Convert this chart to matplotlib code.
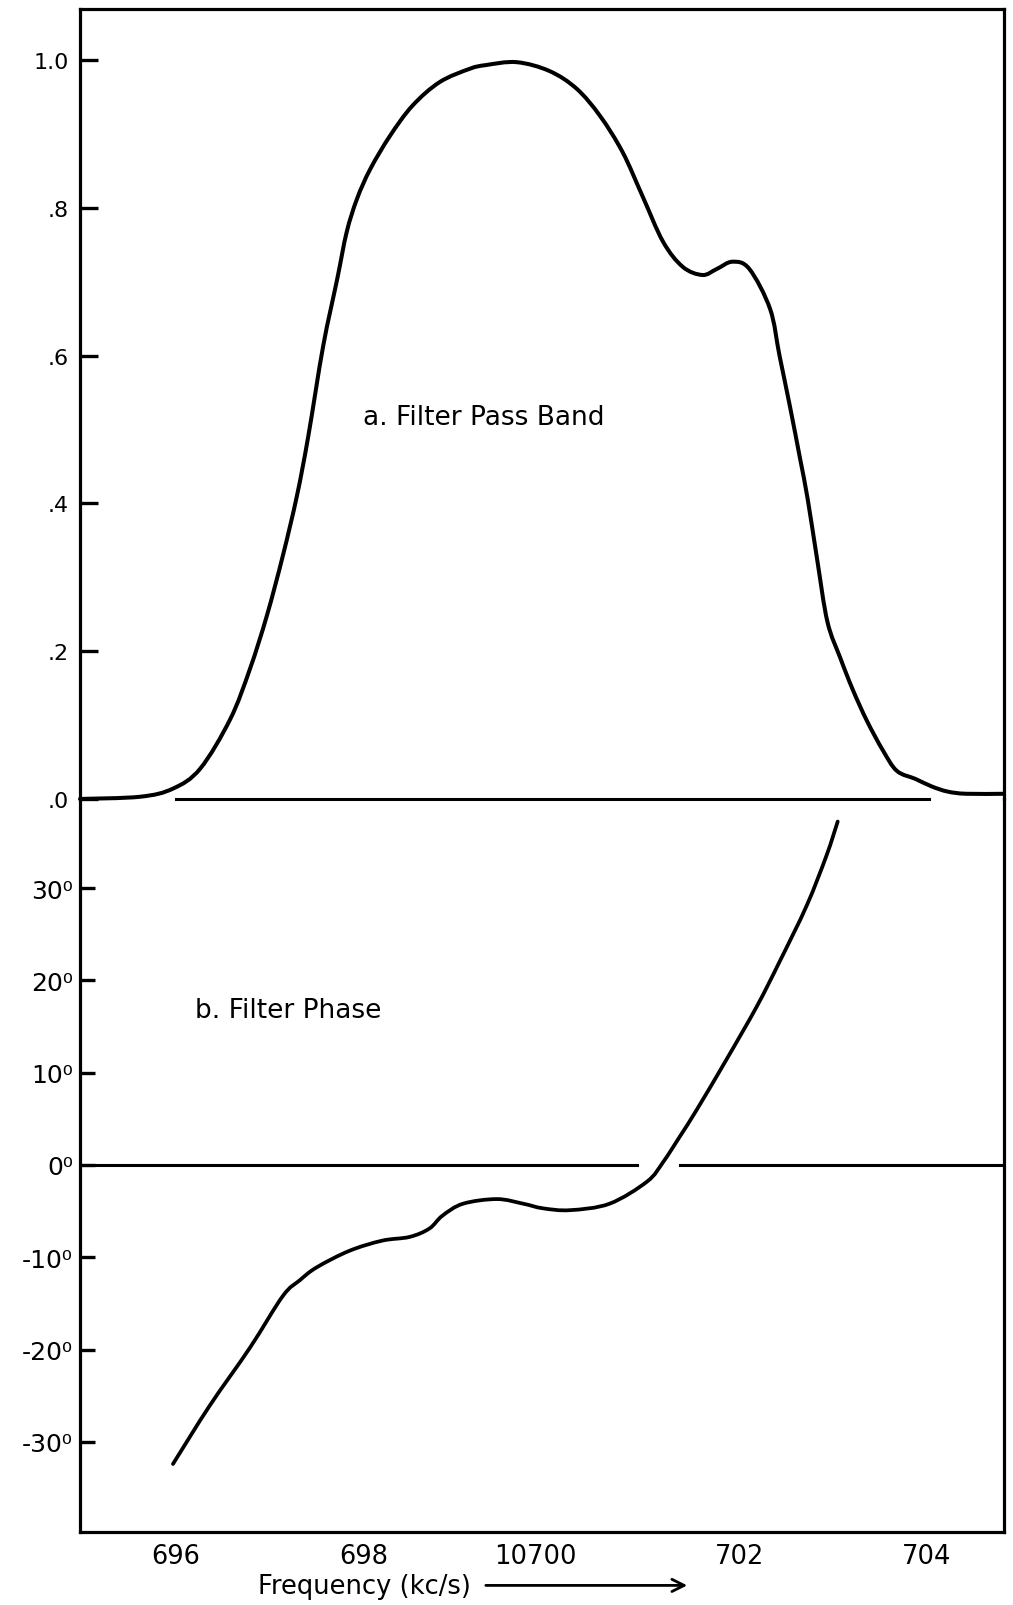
import matplotlib.pyplot as plt
from matplotlib.path import Path
from matplotlib.patches import PathPatch
from matplotlib.transforms import ScaledTranslation

plt.rcParams['font.family'] = 'DejaVu Sans'

# filter pass band (relative amplitude) against frequency in kc/s
freq_amp = [694.98, 695.62, 695.97, 696.26, 696.58, 696.79, 696.97, 697.14,
            697.29, 697.41, 697.57, 697.72, 697.82, 697.93, 698.07, 698.28,
            698.52, 698.81, 699.13, 699.30, 699.63, 699.98, 700.27, 700.52,
            700.76, 700.97, 701.19, 701.40, 701.61, 701.76, 701.93, 702.11,
            702.33, 702.43, 702.54, 702.65, 702.73, 702.83, 702.94, 703.08,
            703.21, 703.36, 703.53, 703.68, 703.88, 704.05, 704.22, 704.42,
            704.82]
amplitude = [0.0, 0.003, 0.014, 0.041, 0.108, 0.176, 0.248, 0.329,
             0.410, 0.490, 0.613, 0.704, 0.767, 0.812, 0.852, 0.897,
             0.938, 0.970, 0.988, 0.993, 0.997, 0.985, 0.961, 0.924,
             0.875, 0.816, 0.754, 0.720, 0.709, 0.717, 0.727, 0.717,
             0.663, 0.600, 0.532, 0.460, 0.406, 0.325, 0.240, 0.190,
             0.148, 0.106, 0.066, 0.038, 0.027, 0.017, 0.010, 0.007,
             0.007]

# filter phase in degrees
freq_phase = [695.97, 696.36, 696.79, 697.14, 697.32, 697.50, 697.85, 698.20,
              698.49, 698.70, 698.84, 699.06, 699.42, 699.70, 699.91, 700.20,
              700.62, 701.02, 701.19, 701.37, 701.55, 701.87, 702.19, 702.43,
              702.72, 702.93, 703.05]
phase = [-32.4, -26.1, -19.8, -14.2, -12.5, -11.1, -9.3, -8.2,
         -7.8, -6.9, -5.5, -4.2, -3.7, -4.2, -4.7, -4.9,
         -4.2, -1.8, 0.3, 3.1, 6.0, 11.5, 17.2, 22.0,
         28.1, 33.5, 37.2]

amp_ticks = [0.0, 0.2, 0.4, 0.6, 0.8, 1.0]
amp_labels = ['.0', '.2', '.4', '.6', '.8', '1.0']
phase_ticks = [-30, -20, -10, 0, 10, 20, 30]
phase_labels = ['-30⁰', '-20⁰', '-10⁰', '0⁰', '10⁰', '20⁰', '30⁰']
freq_ticks = [696, 698, 700, 702, 704]
freq_labels = ['696', '698', '10700', '702', '704']

# reference lines
amp_base = [696.0, 704.02]
zero_left = [694.98, 700.91]
zero_right = [701.37, 704.82]

xmin, xmax = 694.98, 704.82


def smooth_path(xs, ys):
    # Catmull-Rom through the points, written as cubic Bezier segments
    pts = list(zip(xs, ys))
    n = len(pts)
    verts = [pts[0]]
    codes = [Path.MOVETO]
    for i in range(n - 1):
        p0 = pts[max(i - 1, 0)]
        p1 = pts[i]
        p2 = pts[i + 1]
        p3 = pts[min(i + 2, n - 1)]
        c1 = (p1[0] + (p2[0] - p0[0]) / 6, p1[1] + (p2[1] - p0[1]) / 6)
        c2 = (p2[0] - (p3[0] - p1[0]) / 6, p2[1] - (p3[1] - p1[1]) / 6)
        verts += [c1, c2, p2]
        codes += [Path.CURVE4] * 3
    return Path(verts, codes)


fig = plt.figure(figsize=(10.13, 16.06), dpi=100)
ax1 = fig.add_axes([0.079, 0.5019, 0.912, 0.4919])
ax2 = fig.add_axes([0.079, 0.0455, 0.912, 0.4564])
ax2.patch.set_visible(False)

for ax in (ax1, ax2):
    ax.set_xlim(xmin, xmax)
    for s in ax.spines.values():
        s.set_linewidth(2.3)
ax1.spines['bottom'].set_visible(False)
ax2.spines['top'].set_visible(False)

# a. pass band
ax1.add_patch(PathPatch(smooth_path(freq_amp, amplitude), fill=False,
                        ec='black', lw=2.9, capstyle='round',
                        joinstyle='round', clip_on=False))
ax1.plot(amp_base, [0, 0], color='black', lw=2.2, clip_on=False)
ax1.set_ylim(0, 1.069)
ax1.set_yticks(amp_ticks)
ax1.set_yticklabels(amp_labels)
ax1.tick_params(axis='y', direction='in', length=13, width=2.4,
                labelsize=16, pad=8)
ax1.tick_params(axis='x', bottom=False, labelbottom=False)
ax1.text(697.99, 0.517, 'a. Filter Pass Band', fontsize=19, va='center')

# b. phase
ax2.add_patch(PathPatch(smooth_path(freq_phase, phase), fill=False,
                        ec='black', lw=2.7, capstyle='round',
                        joinstyle='round'))
ax2.plot(zero_left, [0, 0], color='black', lw=2.2)
ax2.plot(zero_right, [0, 0], color='black', lw=2.2)
ax2.set_ylim(-39.76, 39.65)
ax2.set_yticks(phase_ticks)
ax2.set_yticklabels(phase_labels)
ax2.tick_params(axis='y', direction='in', length=11, width=2.4,
                labelsize=18, pad=5)
ax2.set_xticks(freq_ticks)
ax2.set_xticklabels(freq_labels)
ax2.tick_params(axis='x', length=0, labelsize=18.5, pad=8)
ax2.text(696.2, 16.8, 'b. Filter Phase', fontsize=19, va='center')

# the "10" prefix hangs left of the 700 tick
lbl = ax2.get_xticklabels()[2]
lbl.set_transform(lbl.get_transform() + ScaledTranslation(-0.16, 0, fig.dpi_scale_trans))

xlab = fig.text(0.2547, 0.0118, 'Frequency (kc/s)', fontsize=18.5, va='center')
fig.canvas.draw()
x_end = xlab.get_window_extent().x1 / fig.bbox.width
ax2.annotate('', xy=(690 / 1013, 0.0122), xytext=(x_end + 0.012, 0.0122),
             xycoords='figure fraction', textcoords='figure fraction',
             arrowprops=dict(arrowstyle='->', lw=2.0, color='black',
                             mutation_scale=22))

fig.savefig('out.png', dpi=100)
